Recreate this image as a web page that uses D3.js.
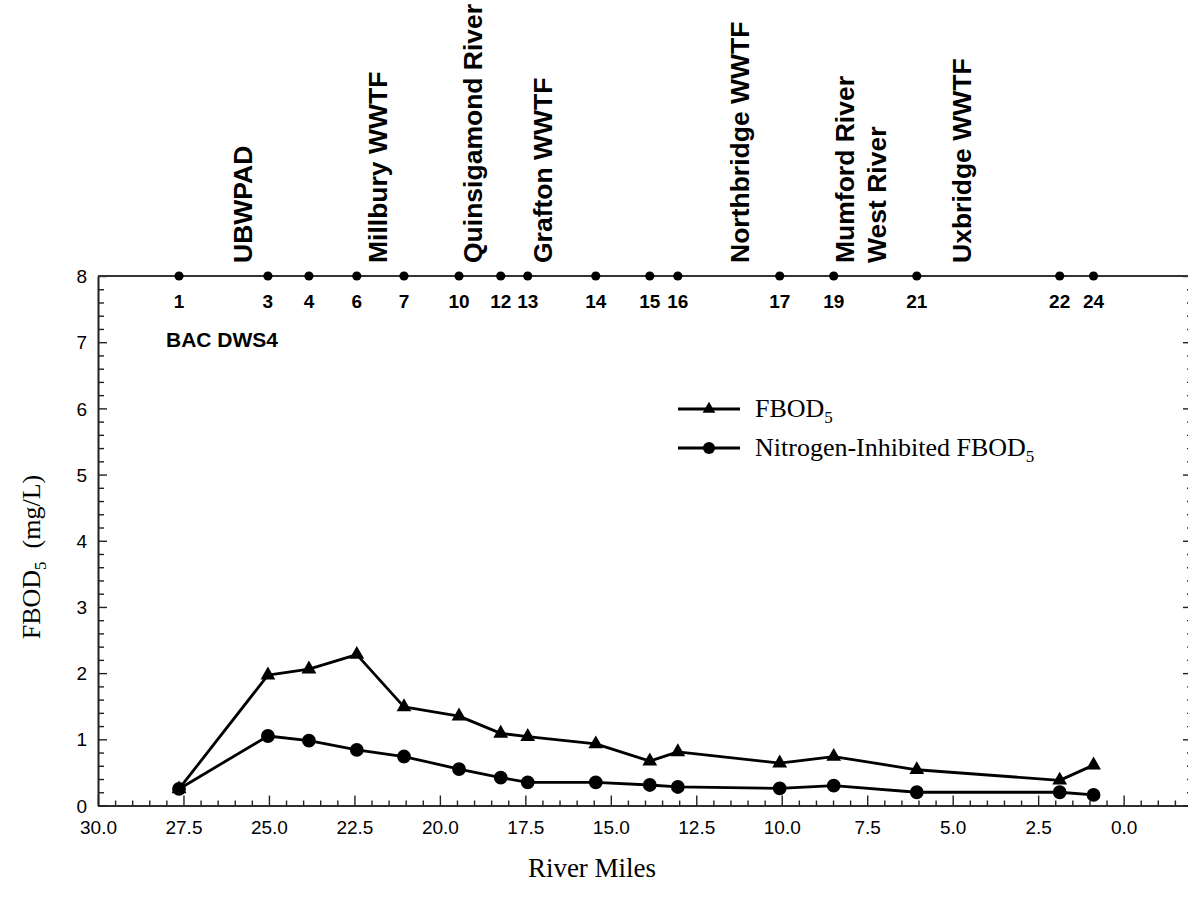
<!DOCTYPE html>
<html><head><meta charset="utf-8">
<script src="https://cdn.jsdelivr.net/npm/d3@7"></script>
<style>body{margin:0;background:#fff}svg{display:block}</style>
</head><body><svg id="c" width="1188" height="900"></svg>
<script>
// ---- data ----
const riverMiles = [27.63, 25.03, 23.83, 22.43, 21.05, 19.44, 18.22, 17.43, 15.44, 13.86, 13.04, 10.06, 8.48, 6.05, 1.87, 0.88];
const stationIds = ["1","3","4","6","7","10","12","13","14","15","16","17","19","21","22","24"];
const fbod5 = [0.25, 1.97, 2.06, 2.28, 1.49, 1.35, 1.09, 1.04, 0.93, 0.67, 0.81, 0.64, 0.74, 0.54, 0.38, 0.61];
const nInhibFbod5 = [0.25, 1.05, 0.98, 0.84, 0.74, 0.55, 0.42, 0.35, 0.35, 0.31, 0.28, 0.26, 0.30, 0.20, 0.20, 0.16];
const sourceNames = ["UBWPAD","Millbury WWTF","Quinsigamond River","Grafton WWTF","Northbridge WWTF","Mumford River","West River","Uxbridge WWTF"];
const sourceMiles = [25.76, 21.81, 19.04, 16.99, 11.23, 8.16, 7.22, 4.74];
const xMajorTicks = [30, 27.5, 25, 22.5, 20, 17.5, 15, 12.5, 10, 7.5, 5, 2.5, 0];
const yMajorTicks = [0, 1, 2, 3, 4, 5, 6, 7, 8];
const seriesNames = ["FBOD", "Nitrogen-Inhibited FBOD"];
const siteLabel = "BAC DWS4";

// ---- chart ----
const svg = d3.select("#c");
const x = d3.scaleLinear().domain([30, -2]).range([98, 1192]);
const y = d3.scaleLinear().domain([0, 8]).range([805.5, 276]);
const sans = "'Liberation Sans', Arial, sans-serif";
const serif = "'Liberation Serif', 'Times New Roman', serif";

const xMinor = d3.range(0, 65).map(i => 30 - i * 0.5).filter(v => v >= -2 && !xMajorTicks.includes(v));
const yMinor = d3.range(0, 41).map(i => +(i * 0.2).toFixed(1)).filter(v => !yMajorTicks.includes(v));

function styleAxis(g) {
  g.selectAll("path.domain").attr("stroke", "#222").attr("stroke-width", 1.6);
  g.selectAll(".tick line").attr("stroke", "#222").attr("stroke-width", 1.4);
  g.selectAll(".tick text").attr("fill", "#000").style("font-family", sans).style("font-size", "19px");
}

// bottom axis
const gxMinor = svg.append("g").attr("transform", `translate(0,${y(0)})`)
  .call(d3.axisBottom(x).tickValues(xMinor).tickSizeInner(-5).tickSizeOuter(0).tickFormat(""));
styleAxis(gxMinor);
const gx = svg.append("g").attr("transform", `translate(0,${y(0)})`)
  .call(d3.axisBottom(x).tickValues(xMajorTicks).tickSizeInner(-10).tickSizeOuter(0).tickPadding(15).tickFormat(d3.format(".1f")));
styleAxis(gx);

// left axis
const gyMinor = svg.append("g").attr("transform", `translate(${x(30)},0)`)
  .call(d3.axisLeft(y).tickValues(yMinor).tickSizeInner(-6).tickSizeOuter(0).tickFormat(""));
styleAxis(gyMinor);
const gy = svg.append("g").attr("transform", `translate(${x(30)},0)`)
  .call(d3.axisLeft(y).tickValues(yMajorTicks).tickSizeInner(-9).tickSizeOuter(0).tickPadding(11).tickFormat(d3.format("d")));
styleAxis(gy);
gy.selectAll(".tick text").attr("dy", "0.35em");

// right axis
const gr = svg.append("g").attr("transform", `translate(${x(-2)},0)`)
  .call(d3.axisRight(y).tickValues(yMajorTicks).tickSizeInner(-9).tickSizeOuter(0).tickFormat(""));
styleAxis(gr);
const grm = svg.append("g").attr("transform", `translate(${x(-2)},0)`)
  .call(d3.axisRight(y).tickValues(yMinor).tickSizeInner(-5).tickSizeOuter(0).tickFormat(""));
styleAxis(grm);

// top station line
svg.append("line").attr("x1", x(30)).attr("x2", x(-2)).attr("y1", y(8)).attr("y2", y(8))
  .attr("stroke", "#333").attr("stroke-width", 2);
svg.append("g").selectAll("circle").data(riverMiles).join("circle")
  .attr("cx", d => x(d)).attr("cy", y(8)).attr("r", 4.6).attr("fill", "#000");
svg.append("g").selectAll("text").data(riverMiles).join("text")
  .attr("x", d => x(d)).attr("y", 308).attr("text-anchor", "middle")
  .style("font-family", sans).style("font-size", "19px").style("font-weight", "bold")
  .text((d, i) => stationIds[i]);

// source labels (rotated)
svg.append("g").selectAll("text").data(sourceMiles).join("text")
  .attr("transform", d => `translate(${x(d) + 9},263) rotate(-90)`)
  .attr("text-anchor", "start")
  .style("font-family", sans).style("font-size", "26.5px").style("font-weight", "bold")
  .text((d, i) => sourceNames[i]);

// site label
svg.append("text").attr("x", 166).attr("y", 347)
  .style("font-family", sans).style("font-size", "21px").style("font-weight", "bold")
  .text(siteLabel);

// series
const pts1 = riverMiles.map((m, i) => [m, fbod5[i]]);
const pts2 = riverMiles.map((m, i) => [m, nInhibFbod5[i]]);
const line = d3.line().x(d => x(d[0])).y(d => y(d[1]));
[pts1, pts2].forEach(p => {
  svg.append("path").attr("d", line(p)).attr("fill", "none").attr("stroke", "#000")
    .attr("stroke-width", 2.8).attr("stroke-linejoin", "round");
});
const tri = d3.symbol(d3.symbolTriangle, 95);
const cir = d3.symbol(d3.symbolCircle, 150);
svg.append("g").selectAll("path").data(pts1).join("path")
  .attr("transform", d => `translate(${x(d[0])},${y(d[1])})`).attr("d", tri()).attr("fill", "#000");
svg.append("g").selectAll("path").data(pts2).join("path")
  .attr("transform", d => `translate(${x(d[0])},${y(d[1])})`).attr("d", cir()).attr("fill", "#000");

// legend
const legRows = [{y: 409, sym: d3.symbol(d3.symbolTriangle, 70)}, {y: 448, sym: d3.symbol(d3.symbolCircle, 115)}];
legRows.forEach((r, i) => {
  svg.append("line").attr("x1", 678).attr("x2", 740).attr("y1", r.y).attr("y2", r.y)
    .attr("stroke", "#000").attr("stroke-width", 2.8);
  svg.append("path").attr("transform", `translate(709,${r.y})`).attr("d", r.sym()).attr("fill", "#000");
  const t = svg.append("text").attr("x", 755).attr("y", r.y + 8)
    .style("font-family", serif).style("font-size", "26px");
  t.append("tspan").text(seriesNames[i]);
  t.append("tspan").attr("dy", 6).style("font-size", "17px").text("5");
});

// axis titles
const yt = svg.append("text").attr("transform", "translate(40,557) rotate(-90)")
  .attr("text-anchor", "middle").style("font-family", serif).style("font-size", "26px");
yt.append("tspan").text("FBOD");
yt.append("tspan").attr("dy", 6).style("font-size", "17px").text("5");
yt.append("tspan").attr("dy", -6).text("\u00a0 (mg/L)");

svg.append("text").attr("x", 592).attr("y", 877).attr("text-anchor", "middle")
  .style("font-family", serif).style("font-size", "27px").text("River Miles");
</script></body></html>
